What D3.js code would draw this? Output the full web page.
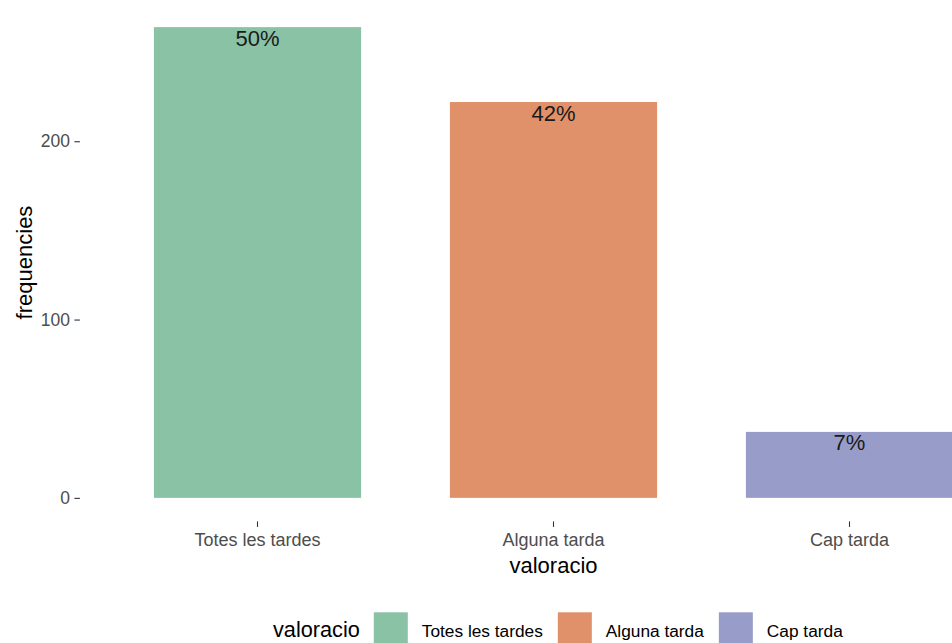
<!DOCTYPE html>
<html>
<head>
<meta charset="utf-8">
<script src="https://cdn.jsdelivr.net/npm/d3@7"></script>
<style>
  html, body { margin: 0; padding: 0; background: #fff; overflow: hidden; }
  svg { display: block; font-family: "Liberation Sans", Arial, sans-serif; }
</style>
</head>
<body>
<svg id="chart" width="952" height="643"></svg>
<script>
// ---- data ----
const categories = ["Totes les tardes", "Alguna tarda", "Cap tarda"];
const frequencies = [264, 222, 37];
const colors = ["#89C2A5", "#E0916A", "#979DC8"];
const yTicks = [0, 100, 200];
const xTitle = "valoracio";
const yTitle = "frequencies";
const legendTitle = "valoracio";

const total = d3.sum(frequencies);
const pctLabels = frequencies.map(v => Math.round(v / total * 100) + "%");

const svg = d3.select("#chart");

// panel (ggplot-like, extends beyond the cropped view)
const panel = { left: 79.9, right: 1027.1, top: 3.6, bottom: 521.4 };
const maxV = d3.max(frequencies);

const x = d3.scaleBand()
  .domain(categories)
  .range([panel.left, panel.right])
  .paddingInner(0.3)
  .paddingOuter(0.25);

const y = d3.scaleLinear()
  .domain([-0.05 * maxV, maxV * 1.05])
  .range([panel.bottom, panel.top]);

const color = d3.scaleOrdinal().domain(categories).range(colors);

// bars
svg.append("g").selectAll("rect")
  .data(categories)
  .join("rect")
  .attr("x", d => x(d))
  .attr("width", x.bandwidth())
  .attr("y", (d, i) => y(frequencies[i]))
  .attr("height", (d, i) => y(0) - y(frequencies[i]))
  .attr("fill", d => color(d));

// percent labels
svg.append("g").selectAll("text")
  .data(categories)
  .join("text")
  .attr("x", d => x(d) + x.bandwidth() / 2)
  .attr("y", (d, i) => y(frequencies[i]) + 18.5)
  .attr("text-anchor", "middle")
  .attr("font-size", 22)
  .attr("fill", "#1a1a1a")
  .text((d, i) => pctLabels[i]);

// y axis (no domain line)
const yAxis = d3.axisLeft(y).tickValues(yTicks).tickSize(5.5).tickPadding(4.4);
const gy = svg.append("g").attr("transform", `translate(${panel.left},0)`).call(yAxis);
gy.select(".domain").remove();
gy.selectAll(".tick line").attr("stroke", "#333333").attr("stroke-width", 1.1);
gy.selectAll(".tick text").attr("fill", "#4D4D4D").attr("font-size", 17.5)
  .attr("font-family", "Liberation Sans, Arial, sans-serif");

// x axis
const xAxis = d3.axisBottom(x).tickSize(5.5).tickPadding(6);
const gx = svg.append("g").attr("transform", `translate(0,${panel.bottom})`).call(xAxis);
gx.select(".domain").remove();
gx.selectAll(".tick line").attr("stroke", "#333333").attr("stroke-width", 1.1);
gx.selectAll(".tick text").attr("fill", "#4D4D4D").attr("font-size", 18)
  .attr("font-family", "Liberation Sans, Arial, sans-serif");

// axis titles
const panelMidX = (panel.left + panel.right) / 2;
svg.append("text")
  .attr("x", panelMidX).attr("y", 573)
  .attr("text-anchor", "middle").attr("font-size", 22).attr("fill", "#000")
  .text(xTitle);

svg.append("text")
  .attr("transform", `translate(31.5,${(panel.top + panel.bottom) / 2}) rotate(-90)`)
  .attr("text-anchor", "middle").attr("font-size", 22).attr("fill", "#000")
  .text(yTitle);

// legend (bottom, horizontal, centered)
const lg = svg.append("g");
const keySize = 34;
const baseY = 637;
let cx = 0;
const lt = lg.append("text").attr("x", cx).attr("y", baseY)
  .attr("font-size", 21.7).attr("fill", "#000").text(legendTitle);
cx += lt.node().getComputedTextLength() + 14;
categories.forEach((c, i) => {
  lg.append("rect").attr("x", cx).attr("y", 612.3)
    .attr("width", keySize).attr("height", keySize).attr("fill", color(c));
  cx += keySize + 14;
  const t = lg.append("text").attr("x", cx).attr("y", baseY - 0.5)
    .attr("font-size", 17.3).attr("fill", "#000").text(c);
  cx += t.node().getComputedTextLength() + (i < categories.length - 1 ? 15 : 0);
});
const legendW = cx;
lg.attr("transform", `translate(${273 - 0},0)`);
</script>
</body>
</html>
